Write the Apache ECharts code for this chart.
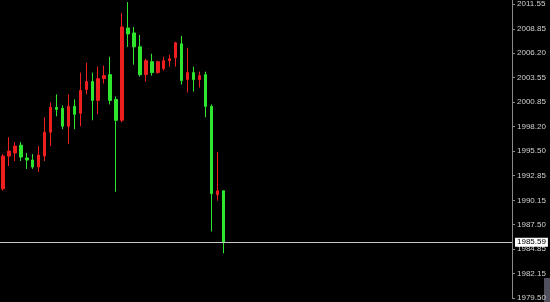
<!DOCTYPE html>
<html>
<head>
<meta charset="utf-8">
<script src="https://cdn.jsdelivr.net/npm/echarts@6/dist/echarts.min.js"></script>
<style>
html,body{margin:0;padding:0;background:#000;}
#c{width:550px;height:302px;}
</style>
</head>
<body>
<div id="c"></div>
<script>
// OHLC values: [open, close, low, high]
const opens  = [1991.41,1994.98,1995.31,1996.17,1994.77,1994.55,1993.79,1994.98,1997.58,2000.29,
                2000.18,1998.23,2000.40,1999.64,2002.24,2003.10,2001.05,2003.43,2003.86,2001.16,
                1998.88,2008.95,2008.41,2006.89,2003.86,2005.27,2004.08,2004.51,2005.38,2005.70,
                2007.22,2003.32,2004.08,2003.32,2003.86,2000.40,1990.76,1991.19];
const closes = [1994.98,1995.52,1996.07,1994.87,1994.55,1993.79,1995.09,1997.58,2000.29,2000.07,
                1998.23,2000.40,1999.53,2002.13,2003.10,2001.05,2003.43,2003.75,2001.05,1998.88,
                2009.06,2008.30,2006.89,2003.86,2005.38,2004.08,2005.27,2005.38,2005.59,2007.33,
                2003.21,2004.08,2003.32,2003.75,2000.40,1990.87,1991.19,1985.59];
const lows   = [1991.19,1993.90,1994.44,1994.44,1993.58,1993.58,1993.25,1994.44,1996.07,1999.31,
                1997.91,1996.28,1997.91,1998.23,2001.70,1998.88,1999.53,2002.89,2000.61,1991.09,
                1998.67,2006.89,2004.95,2003.65,2003.10,2003.75,2003.97,2004.30,2004.73,2004.73,
                2002.78,2001.91,2002.02,2002.45,1999.21,1986.75,1990.11,1984.37];
const highs  = [1995.20,1997.04,1996.50,1996.50,1995.31,1995.20,1996.07,1999.21,2000.83,2001.70,
                2000.50,2001.70,2001.16,2004.08,2005.16,2004.08,2004.73,2004.84,2005.81,2001.48,
                2010.58,2011.77,2009.06,2008.19,2005.59,2006.14,2005.38,2005.81,2006.03,2007.44,
                2008.09,2006.79,2004.73,2004.19,2004.19,2000.61,1995.42,1991.19];
const lastPrice = 1985.59;
const tickLabels = ['2011.55','2008.85','2006.20','2003.55','2000.85','1998.20','1995.50',
                    '1992.85','1990.15','1987.50','1984.85','1982.15','1979.50'];
const slotCount = 86; // empty space to the right of the last bar
const slots = Array.from({length: slotCount}, (_, i) => 'b' + i);

const ohlc = opens.map((o, i) => [o, closes[i], lows[i], highs[i]]);
const tickValues = tickLabels.map(Number);

const chart = echarts.init(document.getElementById('c'), null, {renderer: 'canvas'});
chart.setOption({
  backgroundColor: '#000000',
  animation: false,
  grid: {left: -3, right: 38, top: 0, bottom: 2, containLabel: false},
  xAxis: {
    type: 'category',
    data: slots,
    boundaryGap: true,
    show: false
  },
  yAxis: {
    type: 'value',
    position: 'right',
    min: 1979.50,
    max: 2012.00,
    scale: true,
    splitLine: {show: false},
    axisLine: {show: true, lineStyle: {color: '#8a8a8a', width: 1}},
    axisTick: {show: true, length: 3, lineStyle: {color: '#8a8a8a'}, customValues: tickValues},
    axisLabel: {
      show: true,
      customValues: tickValues,
      color: '#d0d0d0',
      fontSize: 8,
      fontFamily: 'Liberation Sans',
      margin: 5,
      formatter: function (v) {
        const idx = tickValues.findIndex(t => Math.abs(t - v) < 1e-6);
        return idx >= 0 ? tickLabels[idx] : '';
      }
    }
  },
  series: [{
    type: 'candlestick',
    data: ohlc,
    barWidth: 3,
    itemStyle: {
      color: '#ee1f1f',
      color0: '#2ee62e',
      borderColor: '#ee1f1f',
      borderColor0: '#2ee62e',
      borderWidth: 1
    },
    markLine: {
      silent: true,
      symbol: ['none', 'none'],
      animation: false,
      lineStyle: {color: '#c8c8c8', type: 'solid', width: 1},
      label: {
        show: true,
        position: 'end',
        distance: 3,
        formatter: function () { return lastPrice.toFixed(2); },
        backgroundColor: '#ffffff',
        color: '#000000',
        fontSize: 8,
        fontFamily: 'Liberation Sans',
        padding: [1, 2, 0, 2]
      },
      data: [{yAxis: lastPrice}]
    }
  }],
  graphic: [{
    type: 'rect',
    right: 0,
    bottom: 0,
    shape: {width: 6, height: 24},
    style: {fill: '#50505e'}
  }]
});
</script>
</body>
</html>
